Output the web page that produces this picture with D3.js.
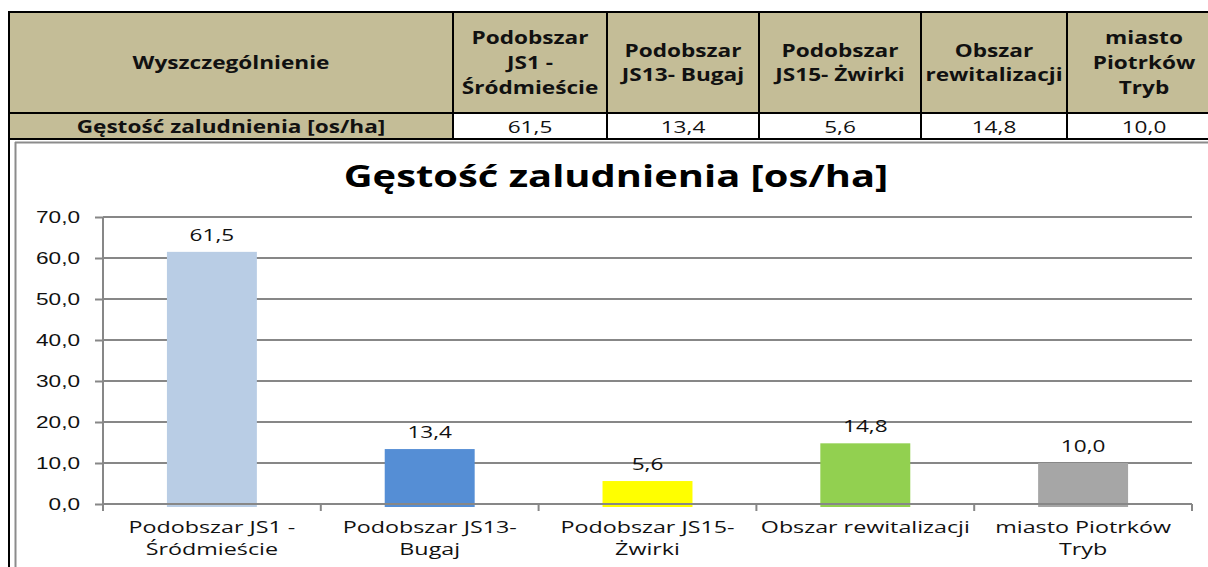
<!DOCTYPE html>
<html>
<head>
<meta charset="utf-8">
<script src="https://cdn.jsdelivr.net/npm/d3@7"></script>
<style>
  body { margin: 0; background: #fff; }
  svg { display: block; font-family: 'Open Sans', sans-serif; }
  .grid line { stroke: #878787; stroke-width: 2; }
  .axis path, .axis line { stroke: #878787; stroke-width: 2; }
  .axis text { font-size: 17px; fill: #111; }
</style>
</head>
<body>
<div id="chart"></div>
<script>
// data
let categories = ['Podobszar JS1 - Śródmieście', 'Podobszar JS13- Bugaj', 'Podobszar JS15- Żwirki', 'Obszar rewitalizacji', 'miasto Piotrków Tryb'];
let headerLines = [['Podobszar', 'JS1 -', 'Śródmieście'], ['Podobszar', 'JS13- Bugaj'], ['Podobszar', 'JS15- Żwirki'], ['Obszar', 'rewitalizacji'], ['miasto', 'Piotrków', 'Tryb']];
let axisLines = [['Podobszar JS1 -', 'Śródmieście'], ['Podobszar JS13-', 'Bugaj'], ['Podobszar JS15-', 'Żwirki'], ['Obszar rewitalizacji'], ['miasto Piotrków', 'Tryb']];
let values = [61.5, 13.4, 5.6, 14.8, 10.0];
let colors = ['#B9CDE5', '#558ED5', '#FFFF00', '#92D050', '#A6A6A6'];
let yTicks = [0, 10, 20, 30, 40, 50, 60, 70];
let title = 'Gęstość zaludnienia [os/ha]';
let rowLabel = 'Gęstość zaludnienia [os/ha]';
let firstHeader = 'Wyszczególnienie';

let width = 1208;
let height = 567;
let wide = 1.33; // the source text is stretched sideways
let pl = d3.formatLocale({decimal: ',', thousands: ' ', grouping: [3], currency: ['', '']});
let fmt = pl.format('.1f');

let svg = d3.select('#chart')
  .append('svg')
  .attr('width', width)
  .attr('height', height);

// stretched, centred text with one or more lines
let label = (parent, x, y, lines, size, bold, lineH, sx) => {
  let t = parent.append('text')
    .attr('transform', 'translate(' + x + ',' + y + ') scale(' + (sx || wide) + ',1)')
    .attr('text-anchor', 'middle')
    .attr('font-size', size)
    .attr('font-weight', bold ? 'bold' : 'normal')
    .attr('fill', '#111');
  lines.forEach((l, j) => {
    t.append('tspan').attr('x', 0).attr('y', j * (lineH || 0)).text(l);
  });
  return t;
};

// ---- table on top
let colEdges = [9, 453, 607, 759, 921, 1067, 1221];
let tTop = 12, tMid = 113, tBot = 139;
let tan = '#C4BD97';

let table = svg.append('g').attr('class', 'table');

table.append('rect')
  .attr('x', colEdges[0]).attr('y', tTop)
  .attr('width', colEdges[6] - colEdges[0]).attr('height', tMid - tTop)
  .attr('fill', tan);
table.append('rect')
  .attr('x', colEdges[0]).attr('y', tMid)
  .attr('width', colEdges[1] - colEdges[0]).attr('height', tBot - tMid)
  .attr('fill', tan);

[tTop, tMid, tBot].forEach(y => {
  table.append('line')
    .attr('x1', colEdges[0] - 1).attr('x2', colEdges[6])
    .attr('y1', y).attr('y2', y)
    .attr('stroke', '#000').attr('stroke-width', 2);
});
colEdges.forEach(x => {
  table.append('line')
    .attr('x1', x).attr('x2', x)
    .attr('y1', tTop).attr('y2', tBot)
    .attr('stroke', '#000').attr('stroke-width', 2);
});

let headMid = 63;
let lineH = 25;
label(table, (colEdges[0] + colEdges[1]) / 2, headMid + 6, [firstHeader], 17, true);
label(table, (colEdges[0] + colEdges[1]) / 2, 133, [rowLabel], 17, true);

headerLines.forEach((lines, i) => {
  let cx = (colEdges[i + 1] + colEdges[i + 2]) / 2;
  let y0 = headMid + 6 - (lines.length - 1) * lineH / 2;
  label(table, cx, y0, lines, 17, true, lineH);
  label(table, cx, 133, [fmt(values[i])], 17, false);
});

// ---- chart frame
svg.append('line')
  .attr('x1', 9).attr('x2', 9).attr('y1', tBot).attr('y2', height)
  .attr('stroke', '#000').attr('stroke-width', 2);
svg.append('line')
  .attr('x1', 15.5).attr('x2', 15.5).attr('y1', 142).attr('y2', height)
  .attr('stroke', '#8c8c8c').attr('stroke-width', 2);
svg.append('line')
  .attr('x1', 15).attr('x2', width).attr('y1', 142.5).attr('y2', 142.5)
  .attr('stroke', '#8c8c8c').attr('stroke-width', 2);

label(svg, 616, 187, [title], 30, true).attr('fill', '#000');

// ---- bar chart
let xScale = d3.scaleBand()
  .domain(categories)
  .range([103, 1192])
  .paddingInner(0.587)
  .paddingOuter(0.2935);

let yScale = d3.scaleLinear()
  .domain([0, 70])
  .range([504, 217]);

svg.append('g')
  .attr('class', 'grid')
  .selectAll('line')
  .data(yTicks)
  .enter()
  .append('line')
  .attr('x1', 103).attr('x2', 1192)
  .attr('y1', d => yScale(d)).attr('y2', d => yScale(d));

svg.selectAll('rect.bar')
  .data(values)
  .enter()
  .append('rect')
  .attr('class', 'bar')
  .attr('x', (d, i) => xScale(categories[i]))
  .attr('y', d => yScale(d))
  .attr('width', xScale.bandwidth())
  .attr('height', d => yScale(0) - yScale(d) + 3)
  .attr('fill', (d, i) => colors[i]);

// y axis
let yAxis = d3.axisLeft(yScale)
  .tickValues(yTicks)
  .tickSize(8)
  .tickFormat(fmt);

svg.append('g')
  .attr('class', 'y axis')
  .attr('transform', 'translate(103,0)')
  .call(yAxis)
  .call(g => g.select('.domain').attr('d', 'M0,' + yScale(70) + 'V' + (yScale(0) + 7)))
  .call(g => g.selectAll('.tick text')
    .attr('x', -23 / wide)
    .attr('transform', 'scale(' + wide + ',1)'));

// x axis with ticks on category boundaries
let xAxisG = svg.append('g')
  .attr('class', 'x axis')
  .attr('transform', 'translate(0,' + yScale(0) + ')');

xAxisG.append('path')
  .attr('d', 'M103,0H1192')
  .attr('fill', 'none');

let step = xScale.step();
let bounds = d3.range(categories.length + 1).map(i => xScale(categories[0]) - xScale.paddingOuter() * step + i * step);
xAxisG.selectAll('line.tick')
  .data(bounds)
  .enter()
  .append('line')
  .attr('x1', d => d).attr('x2', d => d)
  .attr('y1', 0).attr('y2', 7);

axisLines.forEach((lines, i) => {
  let cx = xScale(categories[i]) + xScale.bandwidth() / 2;
  label(xAxisG, cx, 28.5, lines, 16.5, false, 22.5, 1.37);
});

// value labels
values.forEach((d, i) => {
  let cx = xScale(categories[i]) + xScale.bandwidth() / 2;
  label(svg, cx, yScale(d) - 11, [fmt(d)], 17, false);
});
</script>
</body>
</html>
